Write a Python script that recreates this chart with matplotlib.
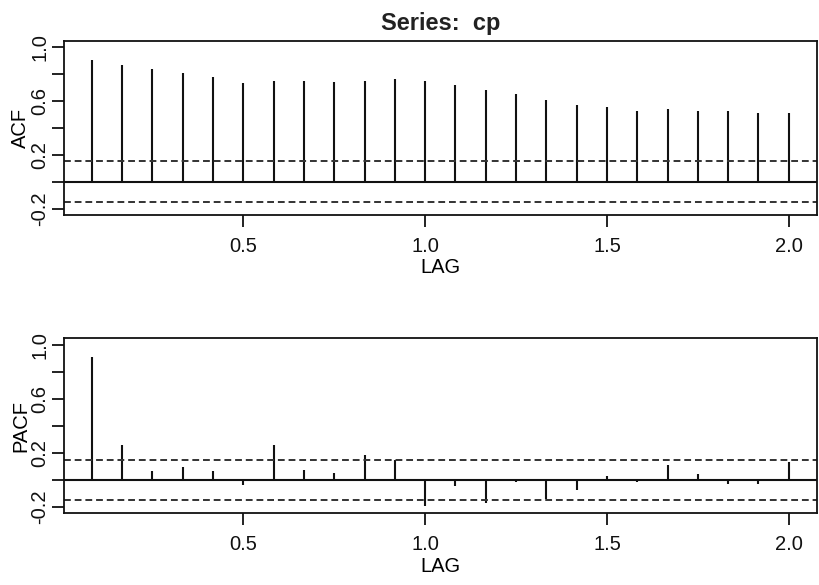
import numpy as np
import matplotlib
matplotlib.use("Agg")
from matplotlib import pyplot as plt

plt.rcParams['font.family'] = ['Liberation Sans', 'DejaVu Sans']

# lags in years (monthly series, 24 lags)
lags = np.arange(1, 25) / 12.0

acf_vals = [0.906, 0.864, 0.836, 0.809, 0.776, 0.737, 0.751, 0.751, 0.739, 0.751,
            0.764, 0.749, 0.722, 0.682, 0.652, 0.609, 0.567, 0.552, 0.525, 0.540,
            0.527, 0.527, 0.510, 0.510]
pacf_vals = [0.910, 0.260, 0.064, 0.093, 0.064, -0.040, 0.260, 0.076, 0.052, 0.180,
             0.150, -0.193, -0.046, -0.173, -0.020, -0.144, -0.076, 0.027, -0.020, 0.106,
             0.040, -0.034, -0.034, 0.133]
conf_limit = 0.15

x_ticks = [0.5, 1.0, 1.5, 2.0]
x_tick_labels = ['0.5', '1.0', '1.5', '2.0']
y_ticks = [-0.2, 0.0, 0.2, 0.4, 0.6, 0.8, 1.0]
y_tick_labels = ['-0.2', '', '0.2', '', '0.6', '', '1.0']

fig = plt.figure(figsize=(8.19, 5.85), dpi=100)
ax1 = fig.add_axes([0.0781, 0.6325, 0.9190, 0.2979])
ax2 = fig.add_axes([0.0781, 0.1226, 0.9190, 0.2991])

xr = lags[-1] - lags[0]
xlim = (lags[0] - 0.04 * xr, lags[-1] + 0.04 * xr)
ylim = (-0.2 - 0.048, 1.0 + 0.048)


def draw_panel(ax, vals, ylab):
    ax.vlines(lags, 0, vals, color='#111111', lw=1.5)
    ax.axhline(0, color='#111111', lw=1.5)
    for c in (conf_limit, -conf_limit):
        ax.axhline(c, color='#333333', lw=1.4, linestyle=(0, (3.5, 2.0)))
    ax.set_xlim(xlim)
    ax.set_ylim(ylim)
    ax.set_xticks(x_ticks)
    ax.set_xticklabels(x_tick_labels)
    ax.set_yticks(y_ticks)
    ax.set_yticklabels(y_tick_labels, rotation=90, va='center')
    ax.tick_params(direction='out', length=8.6, width=1.3, labelsize=14.5,
                   colors='#111111')
    ax.tick_params(axis='x', pad=7)
    ax.tick_params(axis='y', pad=2)
    for s in ax.spines.values():
        s.set_linewidth(1.3)
        s.set_color('#111111')
    ax.set_xlabel('LAG', fontsize=14.5, labelpad=2)
    ax.set_ylabel(ylab, fontsize=14.5, labelpad=0)


draw_panel(ax1, acf_vals, 'ACF')
draw_panel(ax2, pacf_vals, 'PACF')
ax1.set_title('Series:  cp', fontsize=17, fontweight='bold', pad=8,
              color='#222222')

fig.savefig('out.png', dpi=100)
